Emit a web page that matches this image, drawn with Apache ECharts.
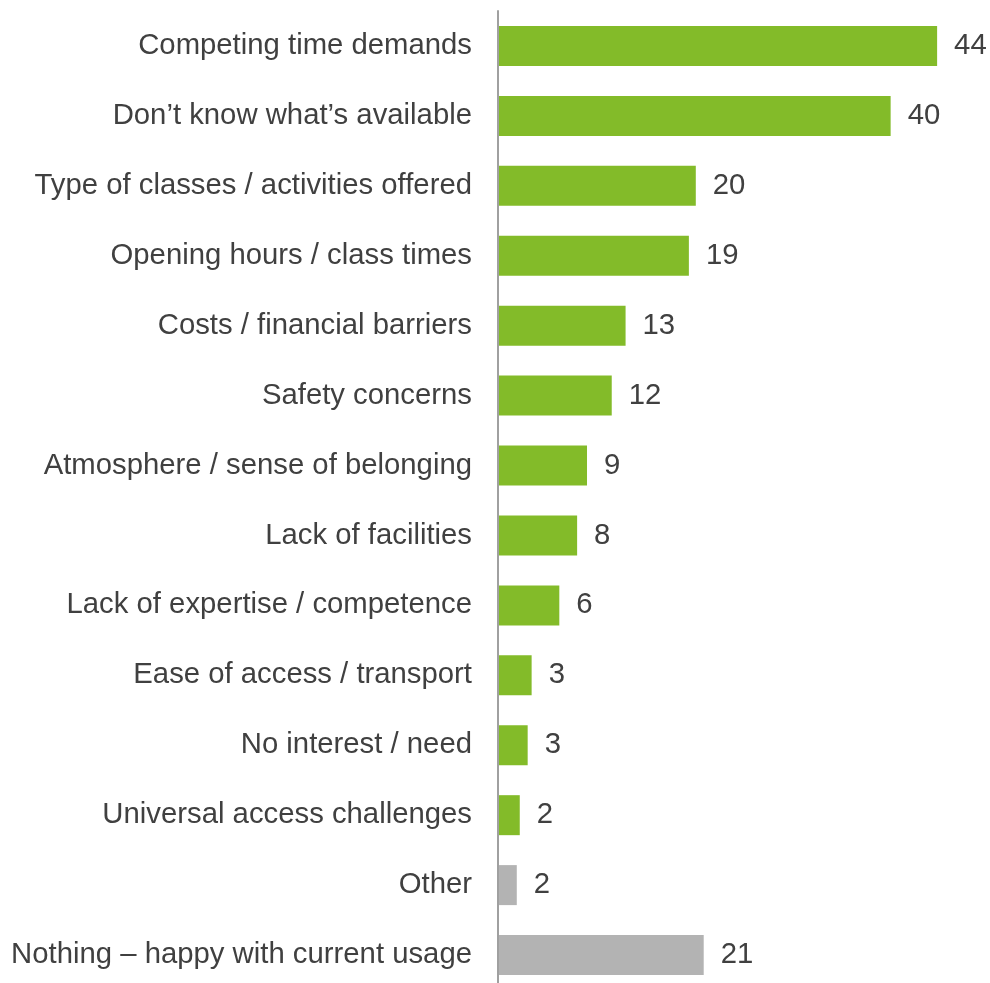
<!DOCTYPE html>
<html>
<head>
<meta charset="utf-8">
<script src="https://cdn.jsdelivr.net/npm/echarts@6/dist/echarts.min.js"></script>
<style>html,body{margin:0;padding:0;background:#fff;overflow:hidden;}#c{width:1000px;height:1000px;}</style>
</head>
<body>
<div id="c"></div>
<script>
const categories = [
  "Competing time demands",
  "Don’t know what’s available",
  "Type of classes / activities offered",
  "Opening hours / class times",
  "Costs / financial barriers",
  "Safety concerns",
  "Atmosphere / sense of belonging",
  "Lack of facilities",
  "Lack of expertise / competence",
  "Ease of access / transport",
  "No interest / need",
  "Universal access challenges",
  "Other",
  "Nothing – happy with current usage"
];
const values = [44.4, 39.7, 20.0, 19.3, 12.9, 11.5, 9.0, 8.0, 6.2, 3.4, 3.0, 2.2, 1.9, 20.8];
const valueLabels = ["44", "40", "20", "19", "13", "12", "9", "8", "6", "3", "3", "2", "2", "21"];
const greyCategories = ["Other", "Nothing – happy with current usage"];

const GREEN = "#83BB29";
const GREY = "#B3B3B3";
const TEXT = "#404040";

const chart = echarts.init(document.getElementById('c'), null, {renderer: 'canvas'});
chart.setOption({
  animation: false,
  backgroundColor: '#fff',
  grid: {left: 498, top: 11, width: 494.5, height: 979, containLabel: false},
  xAxis: {
    type: 'value', min: 0, max: 50,
    show: false
  },
  yAxis: {
    type: 'category',
    inverse: true,
    data: categories,
    axisLine: {show: true, lineStyle: {color: '#A0A0A0', width: 2}},
    axisTick: {show: false},
    axisLabel: {
      color: TEXT, fontSize: 29.3, fontFamily: 'Liberation Sans, Arial, sans-serif',
      margin: 26
    },
    z: 5
  },
  series: [{
    type: 'bar',
    barWidth: 40,
    data: values.map((v, i) => ({
      value: v,
      itemStyle: {color: greyCategories.includes(categories[i]) ? GREY : GREEN}
    })),
    label: {
      show: true, position: 'right', distance: 17,
      color: TEXT, fontSize: 29.3, fontFamily: 'Liberation Sans, Arial, sans-serif',
      formatter: p => valueLabels[p.dataIndex]
    }
  }]
});
</script>
</body>
</html>
